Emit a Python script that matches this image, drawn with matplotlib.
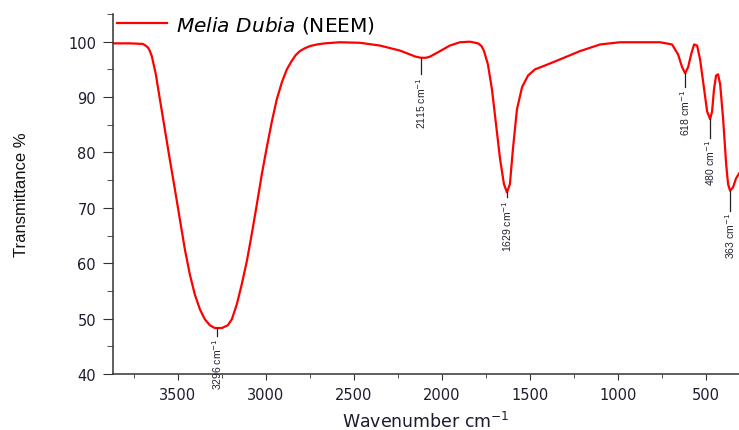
import matplotlib.pyplot as plt
from matplotlib.ticker import MultipleLocator

# FTIR spectrum (wavenumber cm-1, transmittance %)
wavenumber = [3875, 3773, 3700, 3688, 3671, 3660, 3648, 3625, 3602, 3574, 3546, 3517,
              3489, 3460, 3432, 3404, 3375, 3347, 3318, 3290, 3250, 3216,
              3193, 3165, 3137, 3108, 3080, 3051, 3023, 2995, 2966, 2938,
              2909, 2881, 2852, 2830, 2807, 2780, 2750, 2710, 2665, 2580, 2466, 2352, 2239,
              2182, 2150, 2119, 2090, 2068, 2011, 1955, 1898, 1841, 1795, 1775, 1761, 1739,
              1716, 1693, 1670, 1648, 1631, 1614, 1597, 1574, 1545, 1511,
              1472, 1415, 1330, 1216, 1102, 989, 761, 693, 659, 636,
              619, 602, 585, 568, 551, 534, 511, 494, 477, 466,
              455, 443, 432, 420, 403, 386, 375, 364, 347, 330, 313]
transmittance = [99.7, 99.7, 99.6, 99.4, 99.0, 98.4, 97.4, 94.1, 89.6, 84.2, 78.8, 73.4,
                 68.0, 62.5, 58.0, 54.4, 51.7, 49.9, 48.8, 48.3, 48.3, 48.8,
                 49.9, 52.6, 56.2, 60.4, 65.3, 70.7, 76.1, 80.9, 85.6, 89.6,
                 92.7, 95.0, 96.6, 97.6, 98.3, 98.8, 99.2, 99.5, 99.7, 99.9, 99.8, 99.3, 98.4,
                 97.7, 97.3, 97.1, 97.1, 97.3, 98.3, 99.3, 99.9, 100.0, 99.7, 99.2, 98.3, 95.9,
                 91.4, 85.1, 78.8, 74.3, 72.8, 74.3, 80.6, 87.8, 91.8, 93.9,
                 95.0, 95.7, 96.8, 98.3, 99.5, 99.9, 99.9, 99.5, 97.7, 95.4,
                 94.3, 95.4, 97.7, 99.5, 99.3, 96.8, 91.4, 87.4, 86.0, 87.4,
                 91.4, 93.9, 94.1, 92.3, 86.0, 77.9, 74.3, 73.1, 73.7, 75.3, 76.2]

# marked peaks: label, position, curve value, end of the marker line
peak_labels = ["3296", "2115", "1629", "618", "480", "363"]
peak_x = [3275, 2119, 1631, 619, 477, 364]
peak_top = [48.3, 97.1, 72.8, 94.3, 86.0, 73.1]
peak_end = [46.9, 94.1, 71.9, 91.8, 82.7, 69.5]

fig = plt.figure(figsize=(7.39, 4.31), dpi=100)
ax = fig.add_axes([0.1525, 0.1299, 0.8475, 0.8353])

ax.plot(wavenumber, transmittance, color='#ff0000', lw=1.6,
        label=r"$\it{Melia\ Dubia}$ (NEEM)")

for lab, px, top, end in zip(peak_labels, peak_x, peak_top, peak_end):
    ax.plot([px, px], [top, end], color='#222222', lw=0.9)
    ax.text(px, end - 0.3, lab + r" cm$^{-1}$", rotation=90, ha='center', va='top',
            fontsize=7.5, color='#222233',
            family=['Liberation Sans Narrow', 'Liberation Sans'])

ax.set_xlim(3870, 313)
ax.set_ylim(40, 105)
ax.xaxis.set_major_locator(MultipleLocator(500))
ax.xaxis.set_minor_locator(MultipleLocator(250))
ax.yaxis.set_major_locator(MultipleLocator(10))
ax.yaxis.set_minor_locator(MultipleLocator(5))
ax.set_yticks(range(40, 101, 10))

for s in ['top', 'right']:
    ax.spines[s].set_visible(False)
for s in ['left', 'bottom']:
    ax.spines[s].set_color('#333333')
    ax.spines[s].set_linewidth(1.1)

ax.tick_params(axis='both', which='both', direction='out', color='#333333',
               labelcolor='#1c1c30', labelsize=10.5)
ax.tick_params(axis='y', which='major', length=7, pad=5)
ax.tick_params(axis='y', which='minor', length=4)
ax.tick_params(axis='x', which='major', length=4.5, pad=5)
ax.tick_params(axis='x', which='minor', length=3)

ax.set_xlabel(r"Wavenumber cm$^{-1}$", fontsize=12.5, color='#1c1c30', labelpad=6)
ax.set_ylabel("Transmittance %", fontsize=12, family='Liberation Sans',
              color='#111111')
ax.yaxis.set_label_coords(-0.134, 0.5)

ax.legend(loc='center left', bbox_to_anchor=(117 / 739, 1 - 25 / 431),
          bbox_transform=fig.transFigure, frameon=False, fontsize=14.5,
          borderpad=0, borderaxespad=0, handlelength=2.5, handletextpad=0.45)

fig.savefig('out.png', dpi=100)
